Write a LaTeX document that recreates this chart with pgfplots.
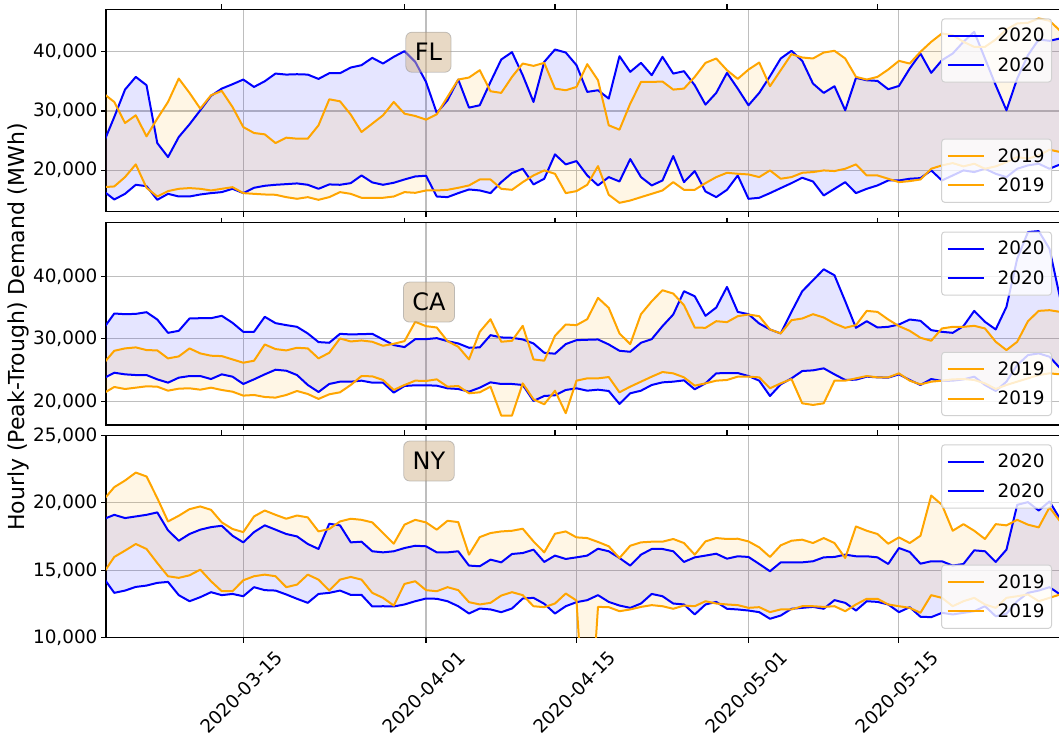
\documentclass[border=0pt]{standalone}
\usepackage{fontspec}
\setmainfont{DejaVu Sans}
\usepackage{pgfplots}
\pgfplotsset{compat=1.18}
\usepackage{pgfplotstable}
\usepgfplotslibrary{fillbetween}

\definecolor{cblue}{RGB}{0,0,255}
\definecolor{corange}{RGB}{255,165,0}
\definecolor{tanc}{RGB}{210,180,140}
\definecolor{gridc}{RGB}{190,190,190}

\pgfplotstableread{
d u20 l20 u19 l19
1 24600 16450 32940 17120
2 28990 15030 31530 17240
3 33620 15990 27970 18820
4 35770 17520 29270 20970
5 34360 17290 25710 17010
6 24580 14980 28710 15540
7 22210 15990 31530 16450
8 25600 15540 35490 16840
9 27750 15540 33060 16960
10 30120 15880 30400 16840
11 32550 16110 32660 16560
12 33790 16280 33400 16840
13 34530 16840 30680 17120
14 35320 16110 27290 16110
15 34070 17010 26280 15990
16 35030 17350 26050 15880
17 36330 17520 24580 15830
18 36160 17630 25490 15430
19 36220 17750 25320 15150
20 36160 17520 25320 15430
21 35430 16840 27580 14980
22 36390 17580 31980 15430
23 36390 17520 31640 16280
24 37350 17800 29390 15990
25 37750 19100 26450 15320
26 38990 17920 27860 15320
27 38030 17520 29270 15320
28 39160 17860 31530 15540
29 40120 18420 29550 16280
30 38310 18930 29160 16160
31 34920 19050 28540 16560
32 29670 15540 29440 16560
33 31810 15430 32380 16670
34 35320 16110 35320 17010
35 30570 16730 35660 17410
36 30970 16560 36900 18420
37 34920 16110 33340 18420
38 38710 17970 33060 16840
39 39950 19500 35770 16670
40 36050 20230 38030 17970
41 31530 17580 37630 19100
42 38310 18540 38140 19950
43 40400 22660 33790 19380
44 39890 20970 33510 16110
45 37750 21530 34070 16450
46 33230 19100 37920 17520
47 33510 17410 35200 20680
48 32100 18820 27580 15830
49 39270 18080 26840 14470
50 36620 21870 31250 14860
51 38140 18820 34920 15430
52 36050 17410 34920 15990
53 39160 18250 34980 16560
54 36330 22380 33620 17970
55 36730 17970 33790 16670
56 34360 19840 35770 16670
57 31080 16390 38140 17800
58 33060 15430 38880 18820
59 36450 16670 36900 19550
60 33790 19100 35430 19380
61 30970 15150 37000 19270
62 33060 15320 38200 18820
63 35880 16110 34190 19950
64 38880 16960 36900 18540
65 40180 17800 39610 18820
66 38480 18710 39050 19550
67 34640 18080 38880 19670
68 33060 15710 39890 19950
69 34190 16840 40180 19840
70 30120 17970 38880 20230
71 35600 16110 35770 20970
72 35200 16840 35320 19100
73 35090 17410 35770 19100
74 33680 18250 37010 18540
75 34240 18250 38480 17970
76 37180 18540 38030 18140
77 39720 18650 40010 18420
78 36450 19950 41700 20230
79 38590 18250 43110 20800
80 39720 19100 42830 21190
81 41700 19950 41700 20630
82 43400 19670 40850 21080
83 38880 20230 40850 20230
84 34360 19380 42100 20630
85 30120 18820 43790 21360
86 35490 20230 44810 22210
87 39440 20800 44920 21930
88 42100 21080 45660 22490
89 41870 20230 45260 23450
90 42270 20970 43570 23060
}\fltable

\pgfplotstableread{
d u20 l20 u19 l19
1 31660 23680 26070 21290
2 34050 24580 28090 22300
3 33940 24320 28470 21980
4 33990 24210 28630 22190
5 34260 24210 28200 22410
6 33090 23520 28150 22350
7 30960 22990 26870 21710
8 31280 23790 27190 22030
9 33250 24050 28470 22090
10 33300 24050 27670 21870
11 33300 23570 27300 22190
12 33680 24320 27240 21820
13 32560 23950 26710 21550
14 31120 22780 26180 20920
15 31120 23520 26500 21020
16 33520 24320 29100 20700
17 32510 25060 28360 20600
18 32190 24900 28150 21020
19 31920 24210 28570 21660
20 30860 22620 28470 21180
21 29480 21500 26870 20390
22 29370 22780 27770 21130
23 30800 23150 30060 21450
24 30700 23150 29580 22620
25 30750 23310 29740 24050
26 30800 22990 29530 24000
27 29900 22990 28890 23420
28 29000 21400 29210 21820
29 28680 22460 29630 22620
30 29950 22570 32720 23310
31 29950 22570 32030 23260
32 30110 22510 31810 23520
33 29630 22090 29630 22350
34 29260 21980 28730 22460
35 28570 21550 26710 21290
36 28630 22190 31120 21450
37 30590 23040 33140 22350
38 30220 22780 29530 17730
39 30170 22780 29690 17730
40 29900 22620 32080 22880
41 29260 20070 26710 20330
42 27770 20860 26500 19530
43 27620 20970 30490 21710
44 29160 21820 32290 18100
45 29790 22090 32190 23310
46 29850 21710 33140 23680
47 29900 21870 36550 23680
48 29100 21660 34950 23890
49 28090 19590 30860 21450
50 27930 21290 29160 22350
51 29370 21710 33940 23150
52 29950 22620 36010 23950
53 32030 23040 37770 24690
54 33890 23150 37240 24480
55 37610 23360 35380 23840
56 36810 21930 31810 22510
57 33680 22880 31760 22880
58 35000 24480 32820 23310
59 38300 24530 32670 23420
60 34310 24530 33620 23950
61 33940 24050 33890 23950
62 32450 23310 33620 23840
63 31500 20860 31500 22090
64 30860 22720 30860 22880
65 34310 23680 32980 23570
66 37610 24850 33250 19690
67 39360 24960 33940 19430
68 41120 25280 33410 19690
69 40160 24320 32450 23310
70 36010 23420 31760 23310
71 31760 23470 32190 23680
72 32820 23950 34470 24050
73 31810 23840 34310 23840
74 31920 23790 33090 23840
75 32290 24320 32030 24480
76 33090 23420 31280 23310
77 32880 22620 30170 22720
78 31390 23570 29690 23150
79 31120 23260 31660 23310
80 30960 23310 31920 23520
81 32030 23520 31920 23570
82 34470 23950 32080 23420
83 32720 22620 31660 22880
84 31500 21660 29530 21980
85 35110 23150 28200 22620
86 42820 25810 29530 23150
87 47070 27400 32820 23680
88 47230 27670 34470 24210
89 44410 27140 34580 24480
90 36440 25280 34310 24320
}\catable

\pgfplotstableread{
d u20 l20 u19 l19
1 18790 14440 20220 14810
2 19110 13330 21160 15990
3 18870 13500 21650 16460
4 18990 13770 22240 16950
5 19110 13870 21950 16580
6 19290 14070 20350 15540
7 17960 14140 18620 14560
8 17190 13160 19040 14440
9 17690 12710 19530 14630
10 18010 13010 19730 15050
11 18200 13380 19480 14190
12 18300 13160 18550 13450
13 17560 13250 18060 13450
14 17070 13080 17830 14260
15 17830 13750 18990 14560
16 18330 13530 19430 14680
17 18010 13500 19110 14560
18 17690 13210 18820 13750
19 17510 12890 19060 13940
20 16950 12590 18920 14680
21 16580 13250 17880 14310
22 18450 13330 18060 13500
23 18330 13500 18620 14310
24 17070 13180 18820 14510
25 17120 13180 18740 14310
26 16410 12320 18550 13330
27 16330 12340 17760 12960
28 16410 12320 16970 12390
29 16650 12470 18380 13990
30 16820 12710 18740 14190
31 16780 12910 18550 13530
32 16330 12890 18010 13450
33 16330 12710 18670 13750
34 16410 12340 18570 13530
35 15350 11800 16160 12640
36 15300 12170 17460 12470
37 15790 12100 17760 12590
38 15590 11900 17880 13130
39 16210 12170 17930 13380
40 16280 12910 18080 13160
41 16530 12960 17140 12340
42 15620 12520 16330 12270
43 16090 11800 17710 12540
44 15840 12340 17880 13280
45 15960 12640 17440 12760
46 16090 12790 17390 0
47 16600 13160 17100 12290
48 16410 12660 16780 12270
49 15910 12390 15910 11970
50 15350 12220 16820 12100
51 16160 12540 17070 12290
52 16580 13250 17120 12420
53 16580 13080 17120 12340
54 16410 12540 17320 12150
55 15620 12470 17020 12390
56 15960 11730 16160 12340
57 16090 12470 17140 12710
58 16230 12660 17390 12540
59 15860 12150 17320 12470
60 16040 12100 17340 12420
61 15990 12020 17140 12220
62 15470 11900 16700 12270
63 14930 11410 15990 11900
64 15590 11650 16850 12100
65 15590 12150 17190 12100
66 15590 12220 17270 12340
67 15670 12290 17020 12340
68 15960 12150 17390 12290
69 15990 12790 17020 12340
70 16160 12590 15910 11970
71 16040 12020 18250 12470
72 16040 12710 17930 12890
73 15960 12660 17690 12890
74 15470 12470 16970 12470
75 16650 11900 17440 12340
76 16360 12270 17020 12220
77 15490 11560 17560 11850
78 15670 11530 20540 13160
79 15670 11850 19850 12960
80 15350 11730 17930 12340
81 15470 11850 18420 12710
82 16480 11970 17930 12960
83 16410 12340 17320 12470
84 15620 11600 18420 12220
85 16530 11780 18330 12960
86 19850 12710 18740 13080
87 20050 13330 18380 13210
88 19430 13500 18180 12710
89 20100 13750 19660 12960
90 18790 13210 18620 13210
}\nytable

\tikzset{
  statebox/.style={fill=tanc, fill opacity=0.5, text opacity=1, draw=black!45, draw opacity=0.5,
    line width=0.8pt, rounded corners=6pt, font=\fontsize{24}{29}\selectfont,
    inner xsep=9pt, inner ysep=11.3pt, text height=17.4pt, text depth=0pt},
}

\pgfplotsset{
  legbox/.style={
    legend image code/.code={\draw[##1] (0pt,0pt) -- (36pt,0pt);},
    legend cell align=left,
    legend style={
      font=\fontsize{18.4}{22}\selectfont,
      draw=black!18, line width=1pt, fill=white, fill opacity=0.8,
      text opacity=1, draw opacity=1,
      rounded corners=3pt,
      inner xsep=5pt, inner ysep=7.3pt,
      row sep=10.3pt,
      nodes={inner sep=2pt},
      /tikz/every odd column/.append style={column sep=11pt},
    },
  },
  panel/.style={
    width=954.2pt, height=202.5pt, scale only axis,
    xmin=1.23, xmax=90,
    xtick={14,31,45,61,75},
    xtick pos=lower, ytick pos=left,
    tick align=outside,
    major tick length=5pt,
    every tick/.style={black, line width=1.05pt},
    axis line style={line width=1.05pt},
    grid=major,
    major grid style={gridc, line width=1.05pt},
    tick label style={font=\fontsize{18.4}{22}\selectfont},
    /pgf/number format/assume math mode=true,
    yticklabel style={/pgf/number format/.cd, fixed, 1000 sep={,}},
    scaled y ticks=false,
    no markers,
    every axis plot/.append style={line join=round},
    legbox,
    legend style={at={(1,1)}, anchor=north east, xshift=-8.2pt, yshift=-9pt},
  },
  ovl/.style={
    width=954.2pt, height=202.5pt, scale only axis,
    xmin=1.23, xmax=90, ymin=0, ymax=1,
    xtick={12,29,43,59,73}, xticklabels={},
    ytick=\empty,
    xtick pos=upper, tick align=outside, major tick length=5pt,
    every tick/.style={black, line width=1.05pt},
    axis line style={draw=none},
    legbox,
    legend style={at={(1,0)}, anchor=south east, xshift=-8.2pt, yshift=9pt},
  },
}

\newcommand{\panelplots}[2]{%
  \addplot[cblue, line width=2pt, name path=#2ua] table[x=d, y=u20] {#1};
  \addlegendentry{2020}
  \addplot[cblue, line width=2pt, name path=#2la] table[x=d, y=l20] {#1};
  \addlegendentry{2020}
  \addplot[corange, line width=2pt, name path=#2ub, forget plot] table[x=d, y=u19] {#1};
  \addplot[corange, line width=2pt, name path=#2lb, forget plot] table[x=d, y=l19] {#1};
  \addplot[cblue, fill opacity=0.1, draw=none, forget plot] fill between[of=#2ua and #2la];
  \addplot[corange, fill opacity=0.1, draw=none, forget plot] fill between[of=#2ub and #2lb];
}

\newcommand{\overlayaxis}[1]{%
  \begin{axis}[ovl, at={(106pt,#1)}, anchor=north west]
    \addlegendimage{corange, line width=2pt}
    \addlegendentry{2019}
    \addlegendimage{corange, line width=2pt}
    \addlegendentry{2019}
  \end{axis}
}

\begin{document}
\begin{tikzpicture}

% FL
\begin{axis}[panel, at={(106pt,-9.3pt)}, anchor=north west,
  ymin=12950, ymax=47200, ytick={20000,30000,40000}, xticklabels={}]
  \panelplots{\fltable}{fl}
  \node[statebox] at (rel axis cs:0.3379,0.788) {FL};
\end{axis}
\overlayaxis{-9.3pt}

% CA
\begin{axis}[panel, at={(106pt,-222.5pt)}, anchor=north west,
  ymin=16220, ymax=48600, ytick={20000,30000,40000}, xticklabels={}]
  \panelplots{\catable}{ca}
  \node[statebox] at (rel axis cs:0.3385,0.607) {CA};
\end{axis}
\overlayaxis{-222.5pt}

% NY
\begin{axis}[panel, at={(106pt,-435.3pt)}, anchor=north west,
  ymin=10000, ymax=25000, ytick={10000,15000,20000,25000},
  xticklabels={2020-03-15,2020-04-01,2020-04-15,2020-05-01,2020-05-15},
  xticklabel style={yshift=-49.5pt, xshift=-2pt, rotate=45, anchor=center}]
  \panelplots{\nytable}{ny}
  \node[statebox] at (rel axis cs:0.3385,0.873) {NY};
\end{axis}
\overlayaxis{-435.3pt}

\node[rotate=90, font=\fontsize{22}{26}\selectfont] at (18.5pt,-327pt) {Hourly (Peak-Trough) Demand (MWh)};

\pgfresetboundingbox
\path[use as bounding box] (0pt,0pt) rectangle (1059pt,-737pt);
\end{tikzpicture}
\end{document}
